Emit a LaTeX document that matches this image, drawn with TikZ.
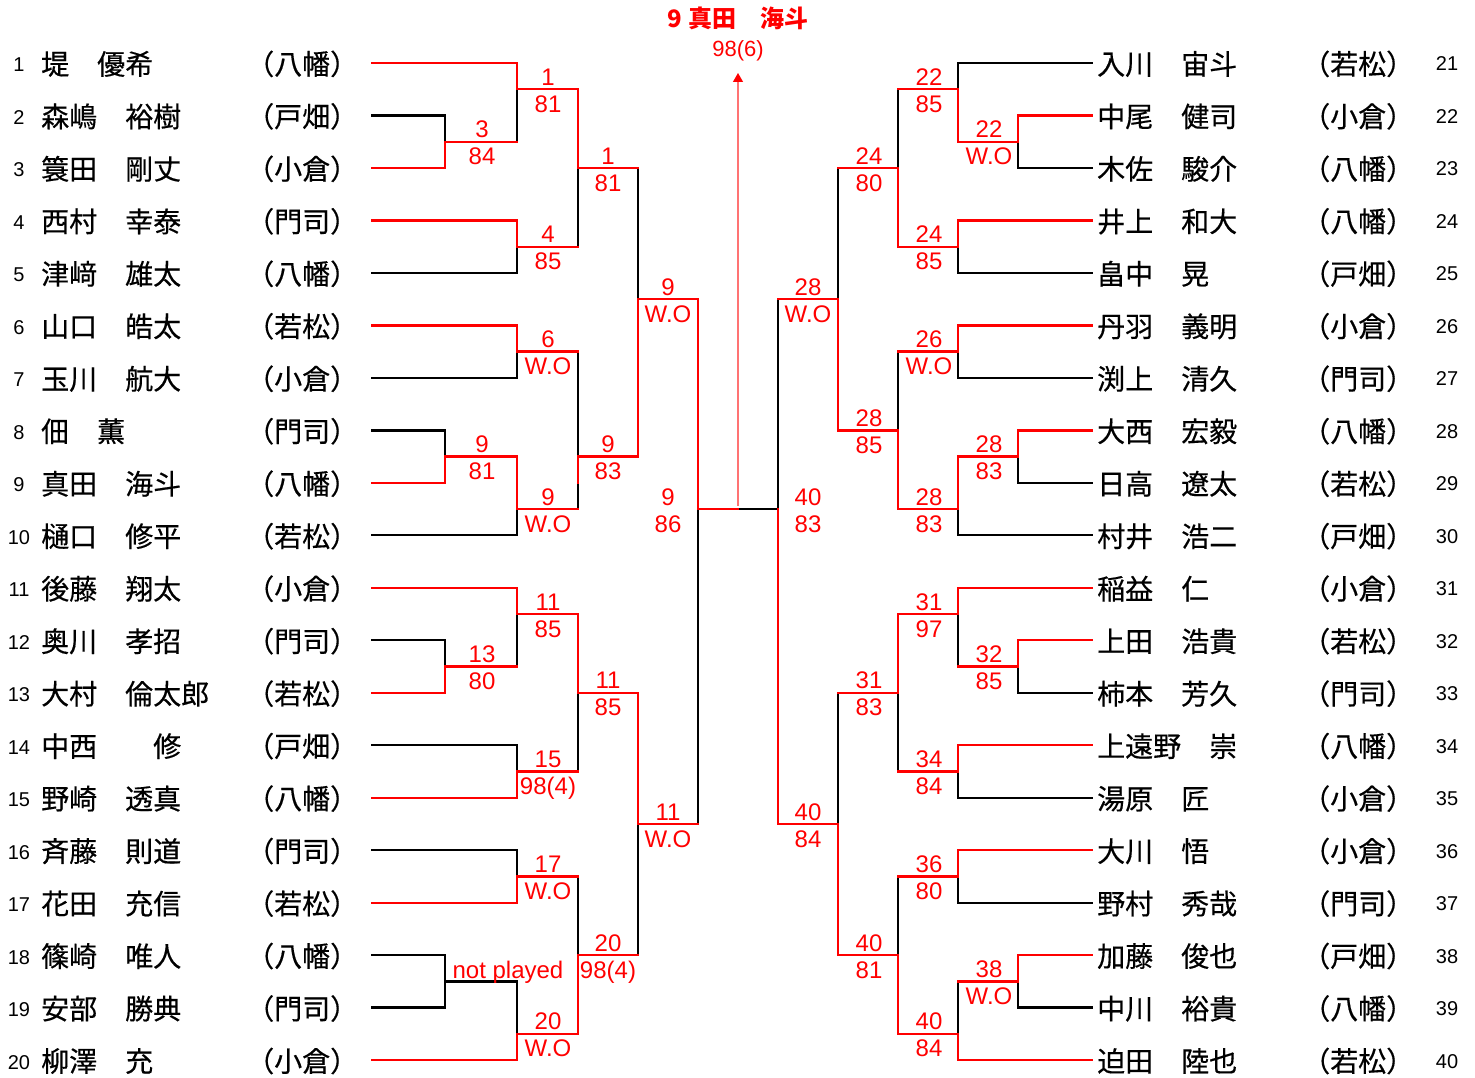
\documentclass[tikz,border=0pt]{standalone}
\usepackage{fontspec}
\setmainfont{Liberation Sans}
\newfontfamily\jpfont{Noto Sans CJK JP}[UprightFeatures={FakeBold=0.4}]
\usetikzlibrary{arrows.meta}
\tikzset{
  bl/.style={line width=2.3pt, black, line cap=rect},
  rl/.style={line width=2.3pt, red, line cap=rect},
  nm/.style={anchor=base west, inner sep=0pt, font=\jpfont\fontsize{28}{30}\selectfont},
  num/.style={anchor=base, inner sep=0pt, font=\fontsize{20}{22}\selectfont},
  lab/.style={anchor=base, inner sep=0pt, text=red, font=\fontsize{24}{26}\selectfont},
  wintitle/.style={anchor=base, inner sep=0pt, text=red, font=\jpfont\bfseries\fontsize{24}{26}\selectfont},
  winscore/.style={anchor=base, inner sep=0pt, text=red, font=\fontsize{22}{24}\selectfont},
  finarrow/.style={draw=red!55, line width=1.2pt, -{Triangle[width=10pt,length=9pt,color=red]}},
}
\newcommand\lrow[4]{\node[num] (ln#1) at (19,{#2+0.34}) {#1};
 \node[nm] (lnm#1) at (41,{#2+0.44}) {#3};
 \node[nm] (lcl#1) at (246,{#2+0.44}) {#4};}
\newcommand\rrow[4]{\node[nm] (rnm#1) at (1097,{#2+0.44}) {#3};
 \node[nm] (rcl#1) at (1302,{#2+0.44}) {#4};
 \node[num] (rn#1) at (1447,{#2+0.30}) {#1};}
\newcommand\mlab[5]{\node[lab] (#1t) at (#2,{#3-0.15}) {#4};
 \node[lab] (#1b) at (#2,{#3+0.88}) {#5};}
\begin{document}
\begin{tikzpicture}[x=1pt,y=-1pt]
\useasboundingbox (0,0) rectangle (1475,1078);
\fill[white] (0,0) rectangle (1475,1078);
\node[wintitle] (champ) at (738,28) {9 真田　海斗};
\node[winscore] (champscore) at (738,57) {98(6)};
\coordinate (arrowtip) at (738,73);
\begin{scope}[shift={(0,63)}, y=-26.24pt]
% ---------- black segments ----------
\draw[bl]
 (372,2)--(445,2) (372,8)--(517,8) (372,12)--(517,12) (372,14)--(445,14) (372,18)--(517,18)
 (445,2)--(445,3) (517,1)--(517,3) (517,7)--(517,8) (578,4)--(578,7) (517,11)--(517,12)
 (445,14)--(445,15) (517,17)--(517,18) (578,11)--(578,15) (578,16)--(578,17) (638,4)--(638,9)
 (738,17)--(778,17)
 (372,22)--(445,22) (372,26)--(517,26) (372,30)--(517,30) (372,34)--(445,34) (372,36)--(445,36)
 (445,22)--(445,23) (517,21)--(517,23) (517,26)--(517,27) (578,24)--(578,27) (517,30)--(517,31)
 (445,34)--(445,36) (445,35)--(517,35) (517,35)--(517,37) (578,31)--(578,34) (638,29)--(638,34)
 (698,17)--(698,29)
 (1092,0)--(958,0) (1092,4)--(1018,4) (1092,8)--(958,8) (1092,12)--(958,12) (1092,16)--(1018,16) (1092,18)--(958,18)
 (1018,3)--(1018,4) (958,0)--(958,1) (958,7)--(958,8) (898,1)--(898,4) (958,11)--(958,12)
 (1018,15)--(1018,16) (958,17)--(958,18) (898,11)--(898,14) (838,4)--(838,9) (778,9)--(778,17)
 (1092,24)--(1018,24) (1092,28)--(958,28) (1092,32)--(958,32) (1092,36)--(1018,36)
 (1018,23)--(1018,24) (958,21)--(958,23) (958,27)--(958,28) (898,24)--(898,27) (958,31)--(958,32)
 (1018,35)--(1018,36) (958,35)--(958,37) (898,31)--(898,34) (838,24)--(838,29);
% ---------- red segments ----------
\draw[rl]
 (372,0)--(517,0) (372,4)--(445,4) (372,6)--(517,6) (372,10)--(517,10) (372,16)--(445,16)
 (445,3)--(445,4) (445,3)--(517,3) (517,0)--(517,1) (517,1)--(578,1) (517,6)--(517,7) (517,7)--(578,7)
 (578,1)--(578,4) (578,4)--(638,4) (517,10)--(517,11) (517,11)--(578,11) (445,15)--(445,16)
 (445,15)--(517,15) (517,15)--(517,17) (517,17)--(578,17) (578,15)--(578,16) (578,15)--(638,15)
 (638,9)--(638,15) (638,9)--(698,9) (698,9)--(698,17) (698,17)--(738,17)
 (372,20)--(517,20) (372,24)--(445,24) (372,28)--(517,28) (372,32)--(517,32) (372,38)--(517,38)
 (445,23)--(445,24) (445,23)--(517,23) (517,20)--(517,21) (517,21)--(578,21) (517,27)--(517,28)
 (517,27)--(578,27) (578,21)--(578,24) (578,24)--(638,24) (517,31)--(517,32) (517,31)--(578,31)
 (517,37)--(517,38) (517,37)--(578,37) (578,34)--(578,37) (578,34)--(638,34) (638,24)--(638,29)
 (638,29)--(698,29)
 (1092,2)--(1018,2) (1092,6)--(958,6) (1092,10)--(958,10) (1092,14)--(1018,14)
 (1018,2)--(1018,3) (1018,3)--(958,3) (958,1)--(958,3) (958,1)--(898,1) (958,6)--(958,7) (958,7)--(898,7)
 (898,4)--(898,7) (898,4)--(838,4) (958,10)--(958,11) (958,11)--(898,11) (1018,14)--(1018,15)
 (1018,15)--(958,15) (958,15)--(958,17) (958,17)--(898,17) (898,14)--(898,17) (898,14)--(838,14)
 (838,9)--(838,14) (838,9)--(778,9)
 (1092,20)--(958,20) (1092,22)--(1018,22) (1092,26)--(958,26) (1092,30)--(958,30) (1092,34)--(1018,34) (1092,38)--(958,38)
 (1018,22)--(1018,23) (1018,23)--(958,23) (958,20)--(958,21) (958,21)--(898,21) (958,26)--(958,27)
 (958,27)--(898,27) (898,21)--(898,24) (898,24)--(838,24) (958,30)--(958,31) (958,31)--(898,31)
 (1018,34)--(1018,35) (1018,35)--(958,35) (958,37)--(958,38) (958,37)--(898,37) (898,34)--(898,37)
 (898,34)--(838,34) (838,29)--(838,34) (838,29)--(778,29) (778,17)--(778,29);
\coordinate (finalpt) at (738,16.88);
% ---------- players ----------
\lrow{1}{0}{堤　優希}{（八幡）}
\lrow{2}{2}{森嶋　裕樹}{（戸畑）}
\lrow{3}{4}{簑田　剛丈}{（小倉）}
\lrow{4}{6}{西村　幸泰}{（門司）}
\lrow{5}{8}{津﨑　雄太}{（八幡）}
\lrow{6}{10}{山口　皓太}{（若松）}
\lrow{7}{12}{玉川　航大}{（小倉）}
\lrow{8}{14}{佃　薫}{（門司）}
\lrow{9}{16}{真田　海斗}{（八幡）}
\lrow{10}{18}{樋口　修平}{（若松）}
\lrow{11}{20}{後藤　翔太}{（小倉）}
\lrow{12}{22}{奥川　孝招}{（門司）}
\lrow{13}{24}{大村　倫太郎}{（若松）}
\lrow{14}{26}{中西　　修}{（戸畑）}
\lrow{15}{28}{野崎　透真}{（八幡）}
\lrow{16}{30}{斉藤　則道}{（門司）}
\lrow{17}{32}{花田　充信}{（若松）}
\lrow{18}{34}{篠崎　唯人}{（八幡）}
\lrow{19}{36}{安部　勝典}{（門司）}
\lrow{20}{38}{柳澤　充}{（小倉）}
\rrow{21}{0}{入川　宙斗}{（若松）}
\rrow{22}{2}{中尾　健司}{（小倉）}
\rrow{23}{4}{木佐　駿介}{（八幡）}
\rrow{24}{6}{井上　和大}{（八幡）}
\rrow{25}{8}{畠中　晃}{（戸畑）}
\rrow{26}{10}{丹羽　義明}{（小倉）}
\rrow{27}{12}{渕上　清久}{（門司）}
\rrow{28}{14}{大西　宏毅}{（八幡）}
\rrow{29}{16}{日高　遼太}{（若松）}
\rrow{30}{18}{村井　浩二}{（戸畑）}
\rrow{31}{20}{稲益　仁}{（小倉）}
\rrow{32}{22}{上田　浩貴}{（若松）}
\rrow{33}{24}{柿本　芳久}{（門司）}
\rrow{34}{26}{上遠野　崇}{（八幡）}
\rrow{35}{28}{湯原　匠}{（小倉）}
\rrow{36}{30}{大川　悟}{（小倉）}
\rrow{37}{32}{野村　秀哉}{（門司）}
\rrow{38}{34}{加藤　俊也}{（戸畑）}
\rrow{39}{36}{中川　裕貴}{（八幡）}
\rrow{40}{38}{迫田　陸也}{（若松）}
% ---------- match labels ----------
\mlab{mA}{482}{3}{3}{84}
\mlab{mB}{548}{1}{1}{81}
\mlab{mC}{548}{7}{4}{85}
\mlab{mD}{608}{4}{1}{81}
\mlab{mE}{548}{11}{6}{W.O}
\mlab{mF}{482}{15}{9}{81}
\mlab{mG}{548}{17}{9}{W.O}
\mlab{mH}{608}{15}{9}{83}
\mlab{mI}{668}{9}{9}{W.O}
\mlab{mJ}{668}{17}{9}{86}
\mlab{mK}{482}{23}{13}{80}
\mlab{mL}{548}{21}{11}{85}
\mlab{mM}{548}{27}{15}{98(4)}
\mlab{mN}{608}{24}{11}{85}
\mlab{mO}{548}{31}{17}{W.O}
\mlab{mP}{548}{37}{20}{W.O}
\mlab{mQ}{608}{34}{20}{98(4)}
\mlab{mR}{668}{29}{11}{W.O}
\node[lab, font=\fontsize{24}{26}\selectfont] (np) at (508,34.9) {not played};
\mlab{nA}{989}{3}{22}{W.O}
\mlab{nB}{929}{1}{22}{85}
\mlab{nC}{929}{7}{24}{85}
\mlab{nD}{869}{4}{24}{80}
\mlab{nE}{929}{11}{26}{W.O}
\mlab{nF}{989}{15}{28}{83}
\mlab{nG}{929}{17}{28}{83}
\mlab{nH}{869}{14}{28}{85}
\mlab{nI}{808}{9}{28}{W.O}
\mlab{nJ}{808}{17}{40}{83}
\mlab{nK}{989}{23}{32}{85}
\mlab{nL}{929}{21}{31}{97}
\mlab{nM}{929}{27}{34}{84}
\mlab{nN}{869}{24}{31}{83}
\mlab{nO}{929}{31}{36}{80}
\mlab{nP}{989}{35}{38}{W.O}
\mlab{nQ}{929}{37}{40}{84}
\mlab{nR}{869}{34}{40}{81}
\mlab{nS}{808}{29}{40}{84}
\end{scope}
\draw[finarrow] (finalpt) -- (arrowtip);
\end{tikzpicture}
\end{document}
